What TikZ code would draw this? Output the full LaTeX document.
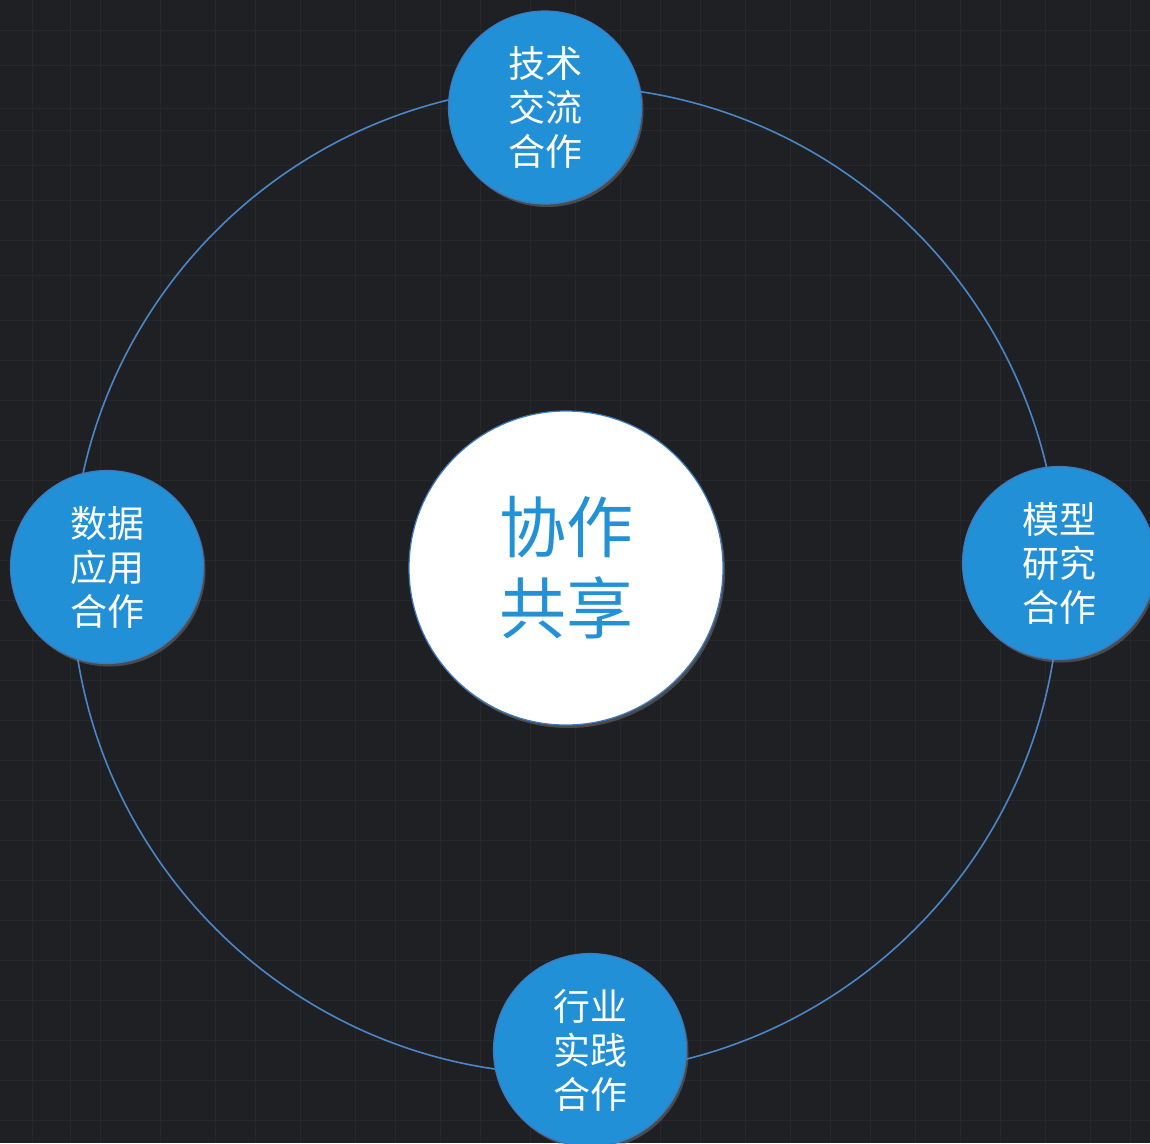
\documentclass[tikz,border=0pt]{standalone}
\usepackage{fontspec}
\newfontfamily\cjk{Noto Sans CJK SC}
\usetikzlibrary{shadows}
\definecolor{bgc}{HTML}{1E2024}
\definecolor{gridc}{HTML}{26282C}
\definecolor{ringc}{HTML}{4A86C8}
\definecolor{nodeblue}{HTML}{2290D6}
\definecolor{nodeedge}{HTML}{3C7BC0}
\definecolor{textblue}{HTML}{2291D6}
\tikzset{
  bluenode/.style={circle, fill=nodeblue, draw=nodeedge, line width=1.2pt,
    minimum size=193pt, inner sep=0pt, text=white, align=center,
    font=\cjk\fontsize{37}{44}\selectfont,
    drop shadow={opacity=0.45, shadow xshift=2pt, shadow yshift=-3pt}},
  centernode/.style={circle, fill=white, draw=nodeedge, line width=1.2pt,
    minimum size=314pt, inner sep=0pt, text=textblue, align=center,
    font=\cjk\fontsize{67}{81}\selectfont,
    drop shadow={opacity=0.45, shadow xshift=2pt, shadow yshift=-3pt}},
  ringline/.style={draw=ringc, line width=1.6pt},
  gridline/.style={draw=gridc, line width=1pt}
}
\begin{document}
\begin{tikzpicture}[x=1pt,y=-1pt]
  \useasboundingbox (0,0) rectangle (1150,1143);
  \fill[bgc] (0,0) rectangle (1150,1143);
  \foreach \gx in {32,70,100,160,215,255,300,355,395,440,480,530,575,620,660,700,745,790,830,870,915,960,1000,1045,1090,1130}
    \draw[gridline] (\gx,0) -- (\gx,1143);
  \foreach \gy in {30,65,108,130,165,200,240,275,320,360,400,440,480,520,560,600,640,680,720,760,800,840,880,920,960,1000,1040,1080,1120}
    \draw[gridline] (0,\gy) -- (1150,\gy);
  \node[circle, ringline, minimum size=988pt, inner sep=0pt] (ring) at (565.5,580) {};
  \node[centernode] (center) at (566,568) {协作\\共享};
  \node[bluenode] (top) at (545,107.5) {技术\\交流\\合作};
  \node[bluenode] (left) at (107,567) {数据\\应用\\合作};
  \node[bluenode] (right) at (1059,563) {模型\\研究\\合作};
  \node[bluenode] (bottom) at (590,1050) {行业\\实践\\合作};
\end{tikzpicture}
\end{document}
